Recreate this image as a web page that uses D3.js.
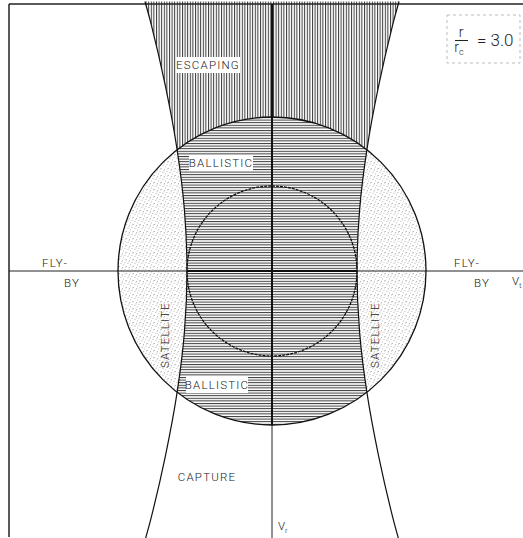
<!DOCTYPE html>
<html>
<head>
<meta charset="utf-8">
<script src="https://cdnjs.cloudflare.com/ajax/libs/d3/7.8.5/d3.min.js"></script>
<style>
  body { margin: 0; background: #fff; }
  text { font-family: Roboto, "DejaVu Sans", sans-serif; font-weight: 300; fill: #222; }
</style>
</head>
<body>
<div id="chart"></div>
<script>
// velocity units: escape speed circle = 1.0
var escapeRadius = 1.0;
var circularRadius = 0.552;   // dashed circle
// periapsis = r_c boundary (right branch; left branch is its mirror)
var boundaryVr = [1.75, 1.6, 1.2, 0.8, 0.4, 0, -0.4, -0.8, -1.2, -1.6, -1.75];
var boundaryVt = [0.825, 0.784, 0.692, 0.618, 0.569, 0.552, 0.569, 0.618, 0.692, 0.784, 0.825];
var ratioLabel = "3.0";

var width = 523, height = 538;
var cx = 272, cy = 271, unit = 154;

var x = d3.scaleLinear().domain([-1, 1]).range([cx - unit, cx + unit]);
var y = d3.scaleLinear().domain([-1, 1]).range([cy + unit, cy - unit]);

var svg = d3.select('#chart')
  .append('svg')
  .attr('width', width)
  .attr('height', height);

var defs = svg.append('defs');

// vertical hatching (escaping)
var vh = defs.append('pattern').attr('id', 'vhatch')
  .attr('patternUnits', 'userSpaceOnUse').attr('width', 2.6).attr('height', 10);
vh.append('rect').attr('x', 0).attr('y', 0).attr('width', 1).attr('height', 10).attr('fill', '#3a3a3a');

// horizontal hatching (ballistic)
var hh = defs.append('pattern').attr('id', 'hhatch')
  .attr('patternUnits', 'userSpaceOnUse').attr('width', 10).attr('height', 2.6);
hh.append('rect').attr('x', 0).attr('y', 0).attr('width', 10).attr('height', 1).attr('fill', '#3a3a3a');

// stipple (satellite)
var st = defs.append('pattern').attr('id', 'stipple')
  .attr('patternUnits', 'userSpaceOnUse').attr('width', 7).attr('height', 7);
[[0, 0], [3, 1], [5.5, 3], [1.5, 4], [4, 5.5], [6, 0.5], [2.5, 2.5]].forEach(function(p) {
  st.append('rect').attr('x', p[0]).attr('y', p[1]).attr('width', 0.9).attr('height', 0.9).attr('fill', '#aaa');
});

defs.append('clipPath').attr('id', 'circleClip')
  .append('circle').attr('cx', x(0)).attr('cy', y(0)).attr('r', x(escapeRadius) - x(0));
defs.append('clipPath').attr('id', 'upperClip')
  .append('rect').attr('x', 0).attr('y', 0).attr('width', width).attr('height', y(0));

var pts = boundaryVr.map(function(v, i) { return [boundaryVt[i], v]; });
var rightBranch = d3.line()
  .x(function(d) { return x(d[0]); })
  .y(function(d) { return y(d[1]); })
  .curve(d3.curveCatmullRom);
var leftBranch = d3.line()
  .x(function(d) { return x(-d[0]); })
  .y(function(d) { return y(d[1]); })
  .curve(d3.curveCatmullRom);

var between = rightBranch(pts) + 'L' + leftBranch(pts.slice().reverse()).slice(1) + 'Z';

// escaping region
svg.append('path').attr('d', between).attr('fill', 'url(#vhatch)')
  .attr('clip-path', 'url(#upperClip)');

// satellite
svg.append('circle').attr('cx', x(0)).attr('cy', y(0)).attr('r', x(escapeRadius) - x(0))
  .attr('fill', '#fff');
svg.append('circle').attr('cx', x(0)).attr('cy', y(0)).attr('r', x(escapeRadius) - x(0))
  .attr('fill', 'url(#stipple)');

// ballistic
svg.append('path').attr('d', between).attr('fill', '#fff').attr('clip-path', 'url(#circleClip)');
svg.append('path').attr('d', between).attr('fill', 'url(#hhatch)').attr('clip-path', 'url(#circleClip)');

// frame
svg.append('line').attr('x1', 9).attr('y1', 4).attr('x2', width).attr('y2', 4)
  .attr('stroke', '#222').attr('stroke-width', 1.5);
svg.append('line').attr('x1', 9).attr('y1', 4).attr('x2', 9).attr('y2', 537)
  .attr('stroke', '#222').attr('stroke-width', 1.5);

// axes
svg.append('line').attr('x1', 9).attr('y1', y(0)).attr('x2', width).attr('y2', y(0))
  .attr('stroke', '#222').attr('stroke-width', 1);
svg.append('line').attr('x1', x(0)).attr('y1', 4).attr('x2', x(0)).attr('y2', height)
  .attr('stroke', '#222').attr('stroke-width', 1);
svg.append('line').attr('x1', x(-circularRadius)).attr('y1', y(0)).attr('x2', x(circularRadius)).attr('y2', y(0))
  .attr('stroke', '#111').attr('stroke-width', 2);
svg.append('line').attr('x1', x(0)).attr('y1', 4).attr('x2', x(0)).attr('y2', y(-escapeRadius))
  .attr('stroke', '#111').attr('stroke-width', 2);

// boundaries
svg.append('circle').attr('cx', x(0)).attr('cy', y(0)).attr('r', x(escapeRadius) - x(0))
  .attr('fill', 'none').attr('stroke', '#111').attr('stroke-width', 1.3);
svg.append('circle').attr('cx', x(0)).attr('cy', y(0)).attr('r', x(circularRadius) - x(0))
  .attr('fill', 'none').attr('stroke', '#111').attr('stroke-width', 1.3)
  .attr('stroke-dasharray', '3,1');
svg.append('path').attr('d', rightBranch(pts)).attr('fill', 'none').attr('stroke', '#111').attr('stroke-width', 1.2);
svg.append('path').attr('d', leftBranch(pts)).attr('fill', 'none').attr('stroke', '#111').attr('stroke-width', 1.2);

// labels
function boxed(label, px, py, w) {
  svg.append('rect').attr('x', px - w / 2).attr('y', py - 8).attr('width', w).attr('height', 16)
    .attr('fill', '#fff');
  svg.append('text').attr('x', px).attr('y', py + 4).attr('text-anchor', 'middle')
    .attr('font-size', 11.5).attr('letter-spacing', 1.2).text(label);
}
boxed('ESCAPING', 208, 65, 64);
boxed('BALLISTIC', 221, 163, 64);
boxed('BALLISTIC', 217, 385, 62);

function plain(label, px, py, rot) {
  svg.append('text').attr('transform', 'translate(' + px + ',' + py + ') rotate(' + (rot || 0) + ')')
    .attr('text-anchor', 'middle').attr('font-size', 11.5).attr('letter-spacing', 1.2).text(label);
}
plain('SATELLITE', 169, 335, -90);
plain('SATELLITE', 379, 335, -90);
plain('CAPTURE', 207, 481);
plain('FLY-', 55, 267);
plain('BY', 72, 287);
plain('FLY-', 467, 267);
plain('BY', 482, 287);

svg.append('text').attr('x', 512).attr('y', 285).attr('font-size', 11.5).text('V')
  .append('tspan').attr('font-size', 8).attr('dy', 3).text('t');
svg.append('text').attr('x', 278).attr('y', 530).attr('font-size', 11.5).text('V')
  .append('tspan').attr('font-size', 8).attr('dy', 3).text('r');

// ratio legend
svg.append('rect').attr('x', 447).attr('y', 15).attr('width', 73).attr('height', 48)
  .attr('fill', 'none').attr('stroke', '#bbb').attr('stroke-dasharray', '3,3');
svg.append('text').attr('x', 461).attr('y', 37).attr('text-anchor', 'middle').attr('font-size', 14).text('r');
svg.append('line').attr('x1', 455).attr('x2', 468).attr('y1', 40.5).attr('y2', 40.5)
  .attr('stroke', '#222').attr('stroke-width', 1);
svg.append('text').attr('x', 459).attr('y', 52).attr('text-anchor', 'middle').attr('font-size', 14).text('r')
  .append('tspan').attr('font-size', 9).attr('dy', 3).text('c');
svg.append('text').attr('x', 477).attr('y', 46).attr('font-size', 17).text('= ' + ratioLabel);
</script>
</body>
</html>
